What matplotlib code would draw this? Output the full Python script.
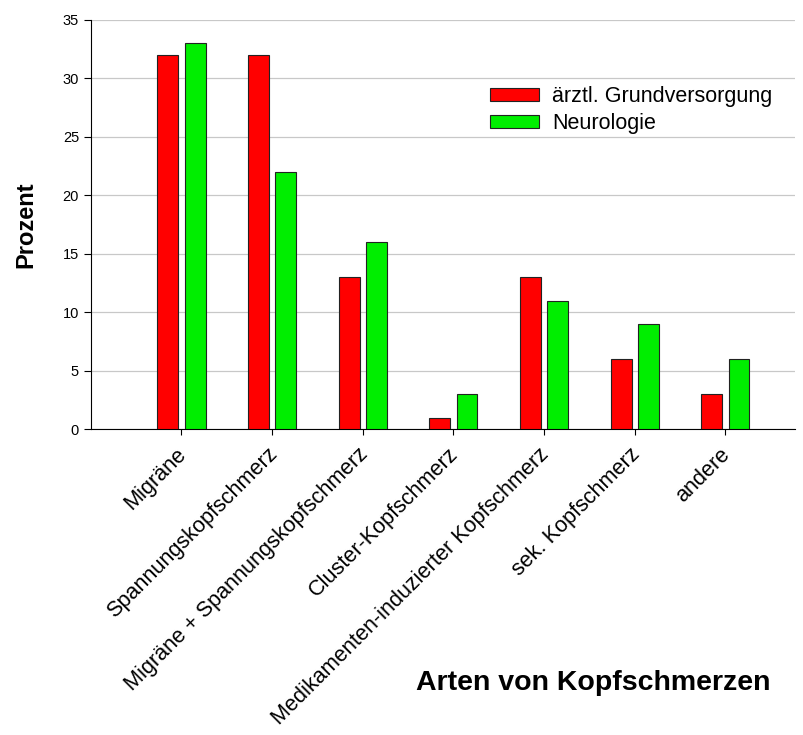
import matplotlib
matplotlib.use('Agg')
import matplotlib.pyplot as plt
import matplotlib.transforms as mtransforms
import numpy as np

plt.rcParams['font.family'] = ['Liberation Sans', 'DejaVu Sans']

# Daten
kategorien = ['Migräne', 'Spannungskopfschmerz', 'Migräne + Spannungskopfschmerz',
              'Cluster-Kopfschmerz', 'Medikamenten-induzierter Kopfschmerz',
              'sek. Kopfschmerz', 'andere']
grundversorgung = [32, 32, 13, 1, 13, 6, 3]
neurologie = [33, 22, 16, 3, 11, 9, 6]

x = np.arange(len(kategorien))
w = 0.23

fig = plt.figure(figsize=(8.04, 7.35), dpi=100)
ax = fig.add_axes([0.113, 0.416, 0.876, 0.557])

ax.bar(x - 0.15, grundversorgung, w, color='#ff0000', edgecolor='#222222', linewidth=0.8,
       label='ärztl. Grundversorgung', zorder=3)
ax.bar(x + 0.15, neurologie, w, color='#00ee00', edgecolor='#222222', linewidth=0.8,
       label='Neurologie', zorder=3)

ax.set_ylim(0, 35)
ax.set_xlim(-1, 6.77)
ax.set_yticks(range(0, 36, 5))
ax.yaxis.grid(True, color='#c8c8c8', linewidth=0.9, zorder=0)

ax.set_xticks(x)
ax.set_xticklabels(kategorien, rotation=45, ha='right', rotation_mode='anchor', fontsize=15.6)
ax.tick_params(axis='y', labelsize=10.5, length=5, direction='out')
ax.tick_params(axis='x', length=4, direction='out', pad=5)

# Beschriftungen etwas nach links schieben
verschiebung = mtransforms.ScaledTranslation(-4 / 72, -1.5 / 72, fig.dpi_scale_trans)
for lbl in ax.get_xticklabels():
    lbl.set_transform(lbl.get_transform() + verschiebung)

ax.spines['top'].set_visible(False)
ax.spines['right'].set_visible(False)

ax.set_ylabel('Prozent', fontsize=17, fontweight='bold', labelpad=18)
fig.text(0.738, 0.071, 'Arten von Kopfschmerzen', fontsize=20.5, fontweight='bold',
         ha='center', va='center')

ax.legend(loc='upper left', bbox_to_anchor=(0.539, 0.885), frameon=False, fontsize=15.5,
          handlelength=2.3, handleheight=0.55, handletextpad=0.6, labelspacing=0.25)

fig.savefig('out.png', dpi=100)
